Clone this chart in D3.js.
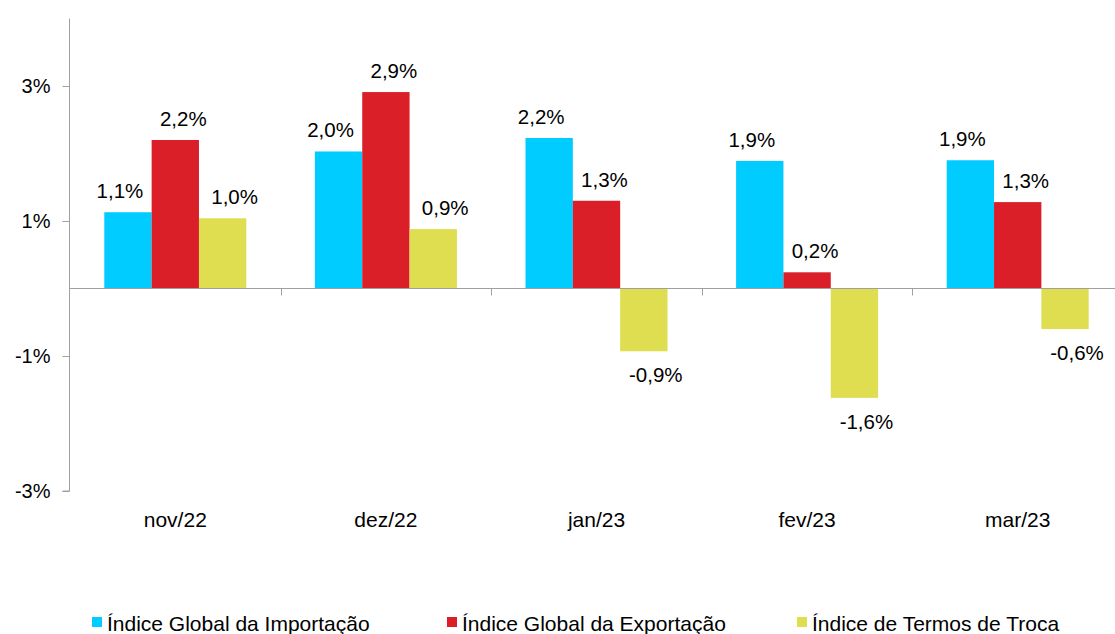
<!DOCTYPE html>
<html>
<head>
<meta charset="utf-8">
<script src="https://cdn.jsdelivr.net/npm/d3@7"></script>
<style>
  body { margin: 0; background: #fff; }
  text { font-family: "Liberation Sans", Arial, sans-serif; fill: #000; }
</style>
</head>
<body>
<div id="chart"></div>
<script>
// data
var months = ["nov/22", "dez/22", "jan/23", "fev/23", "mar/23"];
var seriesNames = ["Índice Global da Importação", "Índice Global da Exportação", "Índice de Termos de Troca"];
var importacao = [1.13, 2.03, 2.23, 1.89, 1.90];
var exportacao = [2.20, 2.91, 1.30, 0.24, 1.28];
var termosTroca = [1.04, 0.88, -0.93, -1.62, -0.60];
var yTicks = [-3, -1, 1, 3];
var colors = ["#00CCFF", "#DA1F28", "#DEDE50"];

var series = [importacao, exportacao, termosTroca];

var W = 1115, H = 634;
var svg = d3.select("#chart").append("svg")
    .attr("width", W)
    .attr("height", H);

// scales
var x = d3.scaleBand()
    .domain(months)
    .range([70, 1123]);

var inner = d3.scaleBand()
    .domain(d3.range(series.length))
    .range([34.3, x.bandwidth() - 34.3]);

var y = d3.scaleLinear()
    .domain([-3, 4])
    .range([491, 18.5]);

var fmt = function(v) { return v.toFixed(1).replace(".", ",") + "%"; };

// y axis
var yAxis = svg.append("g")
    .attr("transform", "translate(69.5,0)")
    .call(d3.axisLeft(y).tickValues(yTicks).tickSize(7).tickPadding(12)
        .tickFormat(function(d) { return d + "%"; }));
yAxis.select(".domain").attr("d", "M-7," + y(-3) + "H0V" + y(4)).attr("stroke", "#A0A0A0");
yAxis.selectAll(".tick line").attr("stroke", "#A0A0A0");
yAxis.selectAll(".tick text").style("font-size", "20px").attr("fill", "#000");

// bars
var groups = svg.selectAll("g.month")
  .data(months)
  .enter()
  .append("g")
    .attr("class", "month")
    .attr("transform", function(d) { return "translate(" + x(d) + ",0)"; });

var labelDx = [-8, 8, 12];

series.forEach(function(vals, s) {
  groups.append("rect")
    .attr("x", inner(s))
    .attr("width", inner.bandwidth())
    .attr("y", function(d, i) { return y(Math.max(0, vals[i])); })
    .attr("height", function(d, i) { return Math.abs(y(vals[i]) - y(0)); })
    .attr("fill", colors[s]);

  groups.append("text")
    .attr("x", inner(s) + inner.bandwidth() / 2 + labelDx[s])
    .attr("y", function(d, i) { return vals[i] >= 0 ? y(vals[i]) - 14 : y(vals[i]) + 31; })
    .attr("text-anchor", "middle")
    .style("font-size", "20.5px")
    .text(function(d, i) { return fmt(vals[i]); });
});

// x axis at zero
var xAxis = svg.append("g")
    .attr("transform", "translate(0," + y(0) + ")");
xAxis.append("line")
    .attr("x1", 69.5).attr("x2", W)
    .attr("stroke", "#A0A0A0");
xAxis.selectAll("line.tk")
  .data(months.slice(1))
  .enter()
  .append("line")
    .attr("class", "tk")
    .attr("x1", function(d) { return Math.round(x(d)) + 0.5; })
    .attr("x2", function(d) { return Math.round(x(d)) + 0.5; })
    .attr("y1", 0).attr("y2", 7)
    .attr("stroke", "#A0A0A0");

// category labels
svg.selectAll("text.cat")
  .data(months)
  .enter()
  .append("text")
    .attr("class", "cat")
    .attr("x", function(d) { return x(d) + x.bandwidth() / 2; })
    .attr("y", 527)
    .attr("text-anchor", "middle")
    .style("font-size", "21px")
    .text(function(d) { return d; });

// legend
var legendX = [92, 447, 797];
var legend = svg.selectAll("g.legend")
  .data(seriesNames)
  .enter()
  .append("g")
    .attr("class", "legend")
    .attr("transform", function(d, i) { return "translate(" + legendX[i] + ",617)"; });
legend.append("rect")
    .attr("width", 10).attr("height", 10)
    .attr("fill", function(d, i) { return colors[i]; });
legend.append("text")
    .attr("x", 15)
    .attr("y", 14)
    .style("font-size", "21px")
    .text(function(d) { return d; });
</script>
</body>
</html>
